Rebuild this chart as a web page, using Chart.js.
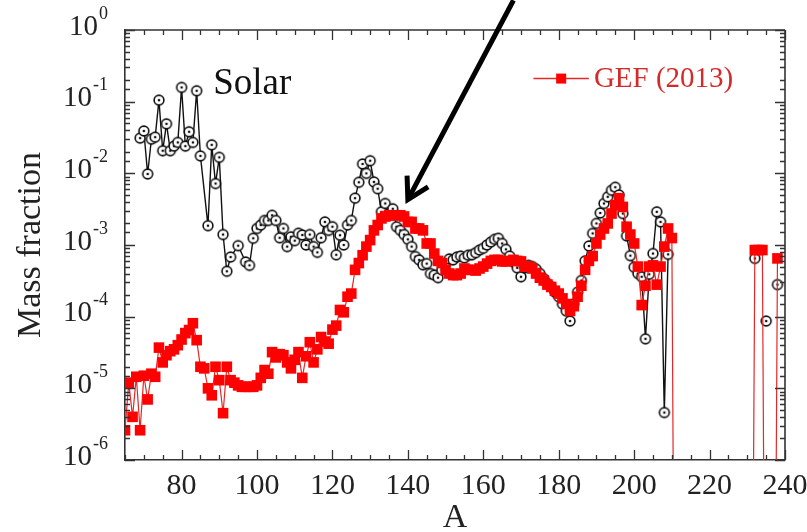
<!DOCTYPE html>
<html>
<head>
<meta charset="utf-8">
<script src="https://cdn.jsdelivr.net/npm/chart.js@4/dist/chart.umd.min.js"></script>
<style>
  html, body { margin: 0; padding: 0; background: #fff; }
  #wrap { width: 807px; height: 532px; }
</style>
</head>
<body>
<div id="wrap"><canvas id="c" width="807" height="532"></canvas></div>
<script>
// Mass number A and mass fraction of the solar pattern (null breaks the line)
const solarA = [
  69,70,71,72,73,74,75,76,77,78,79,80,81,82,83,84,85,87,88,89,90,91,92,93,95,97,98,99,
  100,101,102,103,104,105,106,107,108,109,110,111,112,113,114,115,116,117,118,119,
  120,121,122,123,124,125,126,127,128,129,130,131,132,133,134,135,136,137,138,139,
  140,141,142,143,144,145,146,147,148,149,150,151,152,153,154,155,156,157,158,159,
  160,161,162,163,164,165,166,167,168,169,170,171,172,173,174,175,176,177,178,179,
  180,181,182,183,184,185,186,187,188,189,190,191,192,193,194,195,196,197,198,199,
  200,201,202,203,204,205,206,207,208,209,210,232,233,235,236,238
];
const solarMF = [
  0.031,0.039,0.0098,0.030,0.032,0.105,0.0207,0.049,0.0207,0.024,0.027,0.158,0.024,0.038,0.027,0.142,0.0175,
  0.00186,0.025,0.0072,0.0167,0.0014,0.00043,0.00068,0.00098,0.00058,0.00052,0.00124,
  0.0017,0.0019,0.0022,0.0022,0.0026,0.0022,0.00126,0.0017,0.00095,0.0013,0.00115,0.00146,0.00138,0.0010,0.0014,0.00095,0.00079,0.00126,0.0021,0.0016,
  0.0018,0.00073,0.00137,0.0010,0.0019,0.0022,0.0045,0.0075,0.0135,0.0100,0.015,0.0076,0.0061,0.0029,0.0038,0.0026,0.0032,0.0018,0.0016,0.0014,
  0.0012,0.00095,0.00069,0.00062,0.00053,0.00055,0.00040,0.00038,0.00035,0.00045,0.00055,0.00064,0.00062,0.00068,0.00070,0.00066,0.00072,0.00073,0.00078,0.00085,
  0.00090,0.00100,0.00110,0.00120,0.00124,0.00105,0.00087,0.00070,0.00058,0.00048,0.00036,0.00048,0.00052,0.00050,0.00046,0.00040,0.00034,0.00029,0.00026,0.00022,
  0.00019,0.00015,0.00012,0.000087,0.00015,0.00022,0.00032,0.00060,0.00097,0.00145,0.0020,0.0028,0.0038,0.0047,0.0058,0.0064,0.0050,0.00275,0.00134,0.00071,
  0.00049,0.00040,0.00036,0.000049,0.00039,0.00076,0.0029,0.0021,0.0000046,0.00074,null,0.00065,null,0.000087,null,0.00028
];

// Mass number A and mass fraction of the GEF (2013) yields (0 = nothing produced)
const gefA = [
  65,66,67,68,69,70,71,72,73,74,75,76,77,78,79,80,81,82,83,84,85,86,87,88,89,90,91,92,93,94,95,96,97,98,99,
  100,101,102,103,104,105,106,107,108,109,110,111,112,113,114,115,116,117,118,119,
  120,121,122,123,124,125,126,127,128,129,130,131,132,133,134,135,136,137,138,139,
  140,141,142,143,144,145,146,147,148,149,150,151,152,153,154,155,156,157,158,159,
  160,161,162,163,164,165,166,167,168,169,170,171,172,173,174,175,176,177,178,179,
  180,181,182,183,184,185,186,187,188,189,190,191,192,193,194,195,196,197,198,199,
  200,201,202,203,204,205,206,207,208,209,210,211,212,231,232,233,234,235,236,237,238
];
const gefMF = [
  2.6e-6,1.2e-5,4.0e-6,1.45e-5,2.6e-6,1.5e-5,7.0e-6,1.6e-5,1.45e-5,3.7e-5,2.3e-5,2.9e-5,3.3e-5,3.5e-5,4.0e-5,4.8e-5,5.9e-5,6.5e-5,8.1e-5,4.7e-5,2.0e-5,
  1.9e-5,1.0e-5,8.0e-6,2.0e-5,1.3e-5,4.5e-6,2.0e-5,1.3e-5,1.2e-5,1.1e-5,1.05e-5,1.05e-5,1.05e-5,1.05e-5,
  1.1e-5,1.4e-5,1.8e-5,1.6e-5,3.2e-5,2.7e-5,3.0e-5,2.9e-5,2.3e-5,1.9e-5,2.5e-5,3.2e-5,1.4e-5,2.8e-5,4.4e-5,2.3e-5,3.5e-5,5.2e-5,4.5e-5,4.2e-5,
  6.6e-5,7.5e-5,1.24e-4,1.15e-4,1.9e-4,2.1e-4,4.5e-4,5.6e-4,7.2e-4,9.5e-4,1.17e-3,1.6e-3,1.9e-3,2.35e-3,2.5e-3,2.6e-3,2.6e-3,2.6e-3,2.6e-3,2.5e-3,
  2.1e-3,2.1e-3,1.7e-3,1.7e-3,1.6e-3,1.05e-3,1.05e-3,7.6e-4,6.0e-4,5.6e-4,4.5e-4,4.0e-4,3.8e-4,3.8e-4,4.0e-4,4.7e-4,4.5e-4,4.5e-4,4.4e-4,4.7e-4,
  5.0e-4,5.5e-4,6.0e-4,6.2e-4,6.2e-4,5.9e-4,5.9e-4,6.0e-4,6.2e-4,6.0e-4,5.9e-4,5.0e-4,5.0e-4,4.7e-4,4.0e-4,3.5e-4,3.2e-4,2.8e-4,2.6e-4,2.3e-4,
  2.1e-4,1.8e-4,1.5e-4,1.2e-4,1.4e-4,1.9e-4,2.7e-4,4.5e-4,6.0e-4,7.0e-4,1.05e-3,1.4e-3,1.7e-3,2.0e-3,2.75e-3,3.6e-3,4.5e-3,3.4e-3,1.8e-3,1.4e-3,
  1.05e-3,5.0e-4,1.45e-4,2.7e-4,5.0e-4,5.2e-4,2.8e-4,5.0e-4,9.5e-4,1.7e-3,1.25e-3,0,null,0,8.5e-4,8.5e-4,8.5e-4,0,null,0,6.5e-4
];

// Axis ticks
const xTickLabels = [80, 100, 120, 140, 160, 180, 200, 220, 240];
const yDecades = [0, -1, -2, -3, -4, -5, -6];

// a zero yield cannot sit on a log axis: it is placed far below the floor so
// its segment runs straight down out of the plot
const LOG_FLOOR = 1e-12;

const serif = "'Liberation Serif', 'Times New Roman', serif";
const ink = '#222';

// open circle with a centre dot used for the solar points
function ringDot() {
  const c = document.createElement('canvas');
  c.width = c.height = 14;
  const g = c.getContext('2d');
  g.beginPath(); g.arc(7, 7, 4.9, 0, Math.PI * 2);
  g.fillStyle = '#fff'; g.fill();
  g.lineWidth = 1.6; g.strokeStyle = '#111'; g.stroke();
  g.beginPath(); g.arc(7, 7, 1.3, 0, Math.PI * 2);
  g.fillStyle = '#111'; g.fill();
  return c;
}

const toPoints = (xs, ys) => xs.map((a, i) => ({ x: a, y: ys[i] === 0 ? LOG_FLOOR : ys[i] }));

// inward tick marks, mirrored axes, y labels with exponents, legend, label and arrow
const framePlugin = {
  id: 'frame',
  afterDraw(chart, args, opts) {
    const { ctx, chartArea: ca } = chart;
    const xs = chart.scales.x, ys = chart.scales.y;
    ctx.save();
    ctx.strokeStyle = '#333';
    ctx.lineWidth = 1.6;
    ctx.beginPath();
    ctx.moveTo(ca.left, ca.top); ctx.lineTo(ca.right, ca.top);
    ctx.moveTo(ca.right, ca.top); ctx.lineTo(ca.right, ca.bottom);
    ctx.stroke();

    ctx.lineWidth = 1.3;
    ctx.beginPath();
    xs.ticks.forEach(t => {
      const px = Math.round(xs.getPixelForValue(t.value)) + 0.5;
      const len = xTickLabels.includes(t.value) ? 10 : 5;
      ctx.moveTo(px, ca.bottom); ctx.lineTo(px, ca.bottom - len);
      ctx.moveTo(px, ca.top); ctx.lineTo(px, ca.top + len);
    });
    ys.ticks.forEach(t => {
      const v = t.value;
      const e = Math.floor(Math.log10(v) + 1e-9);
      const m = v / Math.pow(10, e);
      const len = Math.abs(m - 1) < 1e-6 ? 10 : 5;
      const py = Math.round(ys.getPixelForValue(v)) + 0.5;
      ctx.moveTo(ca.left, py); ctx.lineTo(ca.left + len, py);
      ctx.moveTo(ca.right, py); ctx.lineTo(ca.right - len, py);
    });
    ctx.stroke();

    // y tick labels: 10 with a raised exponent
    ctx.fillStyle = ink;
    yDecades.forEach(e => {
      const py = ys.getPixelForValue(Math.pow(10, e));
      const exp = e === 0 ? '0' : '-' + (-e);
      ctx.font = '18px ' + serif;
      const ew = ctx.measureText(exp).width;
      const right = ca.left - 17;
      ctx.textBaseline = 'middle';
      ctx.textAlign = 'left';
      ctx.fillText(exp, right - ew, py - 16);
      ctx.font = '29px ' + serif;
      ctx.textAlign = 'right';
      ctx.fillText('10', right - ew - 1, py - 3);
    });

    // series name written inside the plot
    const solar = chart.data.datasets[1];
    ctx.font = opts.nameFont;
    ctx.fillStyle = '#111';
    ctx.textAlign = 'left';
    ctx.textBaseline = 'alphabetic';
    ctx.fillText(solar.label, xs.getPixelForValue(opts.nameAt.a), ys.getPixelForValue(opts.nameAt.v));

    // legend entry for the model series
    const gef = chart.data.datasets[0];
    const ly = ys.getPixelForValue(opts.legendAt.v);
    const lx0 = xs.getPixelForValue(opts.legendAt.a0);
    const lx1 = xs.getPixelForValue(opts.legendAt.a1);
    ctx.strokeStyle = gef.borderColor;
    ctx.lineWidth = 1.5;
    ctx.beginPath(); ctx.moveTo(lx0, ly); ctx.lineTo(lx1, ly); ctx.stroke();
    ctx.fillStyle = gef.pointBackgroundColor;
    ctx.fillRect((lx0 + lx1) / 2 - 5, ly - 5, 10, 10);
    ctx.font = opts.legendFont;
    ctx.fillStyle = opts.legendColor;
    ctx.textBaseline = 'middle';
    ctx.fillText(gef.label, lx1 + 5, ly + 1);

    // arrow
    const ax0 = xs.getPixelForValue(opts.arrow.from.a), ay0 = ys.getPixelForValue(opts.arrow.from.v);
    const ax1 = xs.getPixelForValue(opts.arrow.to.a), ay1 = ys.getPixelForValue(opts.arrow.to.v);
    const ang = Math.atan2(ay0 - ay1, ax0 - ax1);
    ctx.strokeStyle = '#000';
    ctx.lineWidth = 5;
    ctx.lineCap = 'butt';
    ctx.beginPath(); ctx.moveTo(ax0, ay0); ctx.lineTo(ax1, ay1); ctx.stroke();
    ctx.lineJoin = 'miter';
    ctx.beginPath();
    ctx.moveTo(ax1 + 24 * Math.cos(ang - 0.52), ay1 + 24 * Math.sin(ang - 0.52));
    ctx.lineTo(ax1, ay1);
    ctx.lineTo(ax1 + 24 * Math.cos(ang + 0.52), ay1 + 24 * Math.sin(ang + 0.52));
    ctx.stroke();
    ctx.restore();
  }
};

new Chart(document.getElementById('c'), {
  type: 'line',
  data: {
    datasets: [
      {
        label: 'GEF (2013)',
        data: toPoints(gefA, gefMF),
        order: 0,
        borderColor: 'rgb(228,40,40)',
        borderWidth: 1.2,
        pointStyle: 'rect',
        pointRadius: ctx => (ctx.raw && ctx.raw.y > LOG_FLOOR ? 7.5 : 0),
        pointBorderWidth: 0,
        pointBackgroundColor: '#ff0000',
        pointBorderColor: '#ff0000',
        spanGaps: false,
        tension: 0
      },
      {
        label: 'Solar',
        data: toPoints(solarA, solarMF),
        order: 1,
        borderColor: '#111',
        borderWidth: 1.4,
        pointStyle: ringDot(),
        pointRadius: 5,
        spanGaps: false,
        tension: 0
      }
    ]
  },
  options: {
    responsive: false,
    animation: false,
    events: [],
    layout: { padding: { top: 30, right: 22, left: 0, bottom: 0 } },
    scales: {
      x: {
        type: 'linear',
        min: 65,
        max: 240,
        grid: { display: false, drawTicks: false },
        border: { display: true, color: '#333', width: 1.6 },
        ticks: {
          stepSize: 5,
          autoSkip: false,
          maxRotation: 0,
          padding: 8,
          color: ink,
          font: { family: serif, size: 30 },
          callback: v => (xTickLabels.includes(v) ? String(v) : '')
        },
        title: {
          display: true,
          text: 'A',
          color: ink,
          font: { family: serif, size: 34, lineHeight: 0.8 },
          padding: { top: 0, bottom: 0 }
        },
        afterFit(s) { s.height = 72; s.paddingLeft = 0; s.paddingRight = 0; }
      },
      y: {
        type: 'logarithmic',
        min: 1e-6,
        max: 1,
        grid: { display: false, drawTicks: false },
        border: { display: true, color: '#333', width: 1.6 },
        ticks: { display: false, autoSkip: false },
        title: {
          display: true,
          text: 'Mass fraction',
          color: ink,
          font: { family: serif, size: 34, lineHeight: 1 },
          padding: { top: 14, bottom: 0 }
        },
        afterFit(s) { s.width = 125; s.paddingTop = 0; s.paddingBottom = 0; }
      }
    },
    plugins: {
      legend: { display: false },
      tooltip: { enabled: false },
      frame: {
        nameAt: { a: 88.4, v: 0.13 },
        nameFont: '37px ' + serif,
        legendAt: { a0: 173.3, a1: 188, v: 0.21 },
        legendFont: '29px ' + serif,
        legendColor: '#d42a2a',
        arrow: { from: { a: 168, v: 2.6 }, to: { a: 140, v: 0.0043 } }
      }
    }
  },
  plugins: [framePlugin]
});
</script>
</body>
</html>
